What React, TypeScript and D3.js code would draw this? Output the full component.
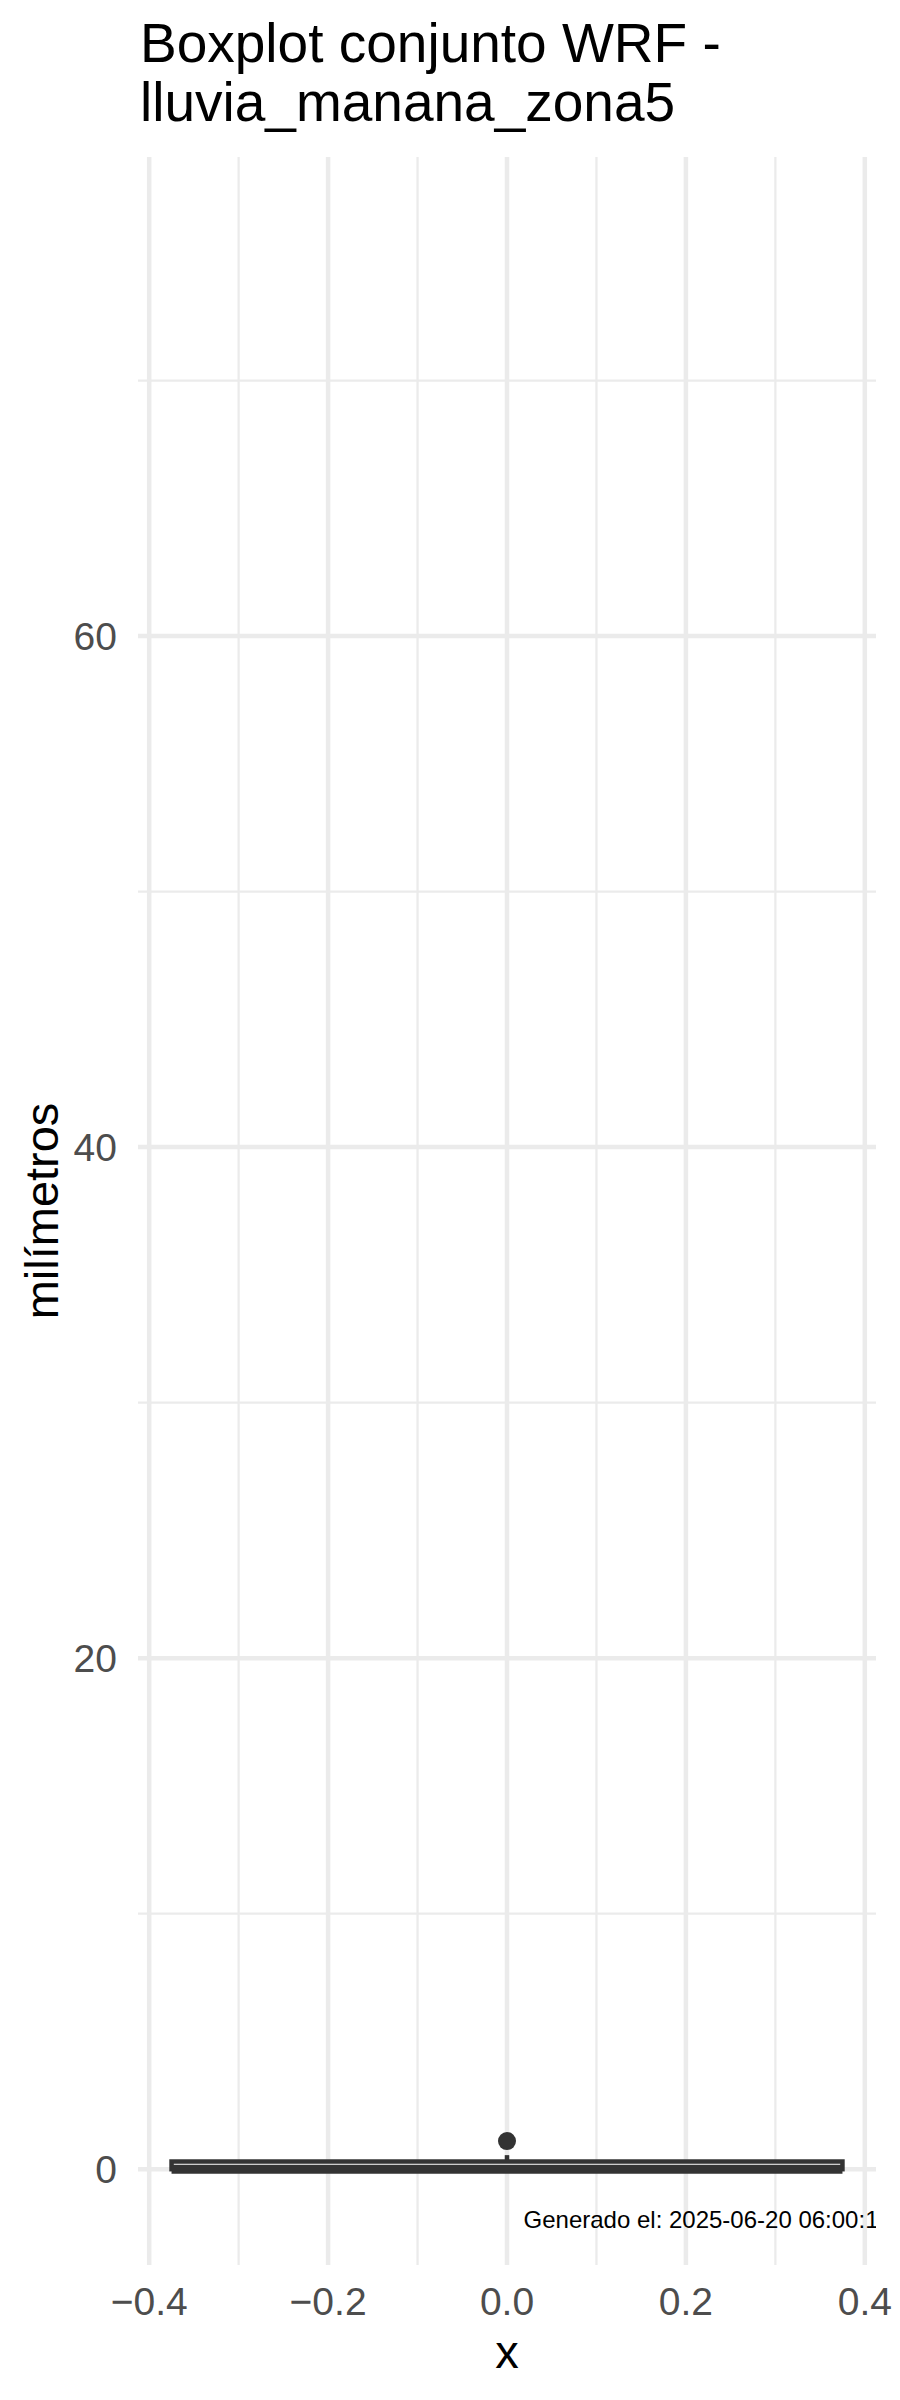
import React from "react";
import * as d3 from "d3";

// ---- data ----
const titleLines = ["Boxplot conjunto WRF -", "lluvia_manana_zona5"];
const yLabel = "milímetros";
const xLabel = "x";
const caption = "Generado el: 2025-06-20 06:00:11";
const xMajorTicks = [-0.4, -0.2, 0.0, 0.2, 0.4];
const xMinorTicks = [-0.3, -0.1, 0.1, 0.3];
const yMajorTicks = [0, 20, 40, 60];
const yMinorTicks = [10, 30, 50, 70];
const boxCenter = [0];
const boxHalfWidth = [0.375];
const boxLower = [0];
const boxMedian = [0];
const boxUpper = [0.3];
const whiskerLow = [0];
const whiskerHigh = [0.55];
const outliers = [1.1];
const yLimits = [0, 75];
const captionPos = [0.0185, -2];

const W = 900;
const H = 2400;
const panel = { left: 138, right: 876, top: 157, bottom: 2265 };
const font = "'Liberation Sans', Arial, Helvetica, sans-serif";

export default function App() {
  const xExt = 0.4125;
  const x = d3.scaleLinear().domain([-xExt, xExt]).range([panel.left, panel.right]);
  const span = yLimits[1] - yLimits[0];
  const y = d3
    .scaleLinear()
    .domain([yLimits[0] - 0.05 * span, yLimits[1] + 0.05 * span])
    .range([panel.bottom, panel.top]);
  const fmtX = d3.format(".1f");
  const fmtY = d3.format("d");
  const lw = 4.5;
  const dark = "#333333";
  const grid = "#ebebeb";

  return (
    <div style={{ position: "absolute", left: 0, top: 0 }}>
      <svg width={W} height={H} viewBox={`0 0 ${W} ${H}`} style={{ display: "block", background: "#fff" }}>
        <defs>
          <clipPath id="panelClip">
            <rect x={panel.left} y={panel.top} width={panel.right - panel.left} height={panel.bottom - panel.top} />
          </clipPath>
        </defs>
        <rect x={0} y={0} width={W} height={H} fill="#fff" />
        {/* title */}
        {titleLines.map((t, i) => (
          <text key={i} x={140} y={62 + i * 59} fontFamily={font} fontSize={55} fill="#000">
            {t}
          </text>
        ))}
        {/* grid */}
        <g clipPath="url(#panelClip)">
          {yMinorTicks.map((v) => (
            <line key={"ym" + v} x1={panel.left} x2={panel.right} y1={y(v)} y2={y(v)} stroke={grid} strokeWidth={lw / 2} />
          ))}
          {xMinorTicks.map((v) => (
            <line key={"xm" + v} x1={x(v)} x2={x(v)} y1={panel.top} y2={panel.bottom} stroke={grid} strokeWidth={lw / 2} />
          ))}
          {yMajorTicks.map((v) => (
            <line key={"yM" + v} x1={panel.left} x2={panel.right} y1={y(v)} y2={y(v)} stroke={grid} strokeWidth={lw} />
          ))}
          {xMajorTicks.map((v) => (
            <line key={"xM" + v} x1={x(v)} x2={x(v)} y1={panel.top} y2={panel.bottom} stroke={grid} strokeWidth={lw} />
          ))}
          {/* boxplot */}
          {boxCenter.map((c, i) => (
            <g key={"box" + i}>
              <line x1={x(c)} x2={x(c)} y1={y(boxUpper[i])} y2={y(whiskerHigh[i])} stroke={dark} strokeWidth={lw} />
              <line x1={x(c)} x2={x(c)} y1={y(boxLower[i])} y2={y(whiskerLow[i])} stroke={dark} strokeWidth={lw} />
              <rect
                x={x(c - boxHalfWidth[i])}
                y={y(boxUpper[i])}
                width={x(c + boxHalfWidth[i]) - x(c - boxHalfWidth[i])}
                height={y(boxLower[i]) - y(boxUpper[i])}
                fill="#fff"
                stroke={dark}
                strokeWidth={lw}
              />
              <line
                x1={x(c - boxHalfWidth[i])}
                x2={x(c + boxHalfWidth[i])}
                y1={y(boxMedian[i])}
                y2={y(boxMedian[i])}
                stroke={dark}
                strokeWidth={lw * 2}
              />
            </g>
          ))}
          {outliers.map((v, i) => (
            <circle key={"o" + i} cx={x(boxCenter[0])} cy={y(v)} r={9} fill={dark} />
          ))}
          <text x={x(captionPos[0])} y={y(captionPos[1]) + 8} fontFamily={font} fontSize={24} fill="#000">
            {caption}
          </text>
        </g>
        {/* y tick labels */}
        {yMajorTicks.map((v) => (
          <text key={"yl" + v} x={117} y={y(v)} dy="0.36em" textAnchor="end" fontFamily={font} fontSize={39} fill="#4d4d4d">
            {fmtY(v)}
          </text>
        ))}
        {/* x tick labels */}
        {xMajorTicks.map((v) => (
          <text key={"xl" + v} x={x(v)} y={2315} textAnchor="middle" fontFamily={font} fontSize={39} fill="#4d4d4d">
            {fmtX(v)}
          </text>
        ))}
        {/* axis titles */}
        <text x={x(0)} y={2368} textAnchor="middle" fontFamily={font} fontSize={47} fill="#000">
          {xLabel}
        </text>
        <text
          transform={`translate(58, ${(panel.top + panel.bottom) / 2}) rotate(-90)`}
          textAnchor="middle"
          fontFamily={font}
          fontSize={47}
          fill="#000"
        >
          {yLabel}
        </text>
      </svg>
    </div>
  );
}
